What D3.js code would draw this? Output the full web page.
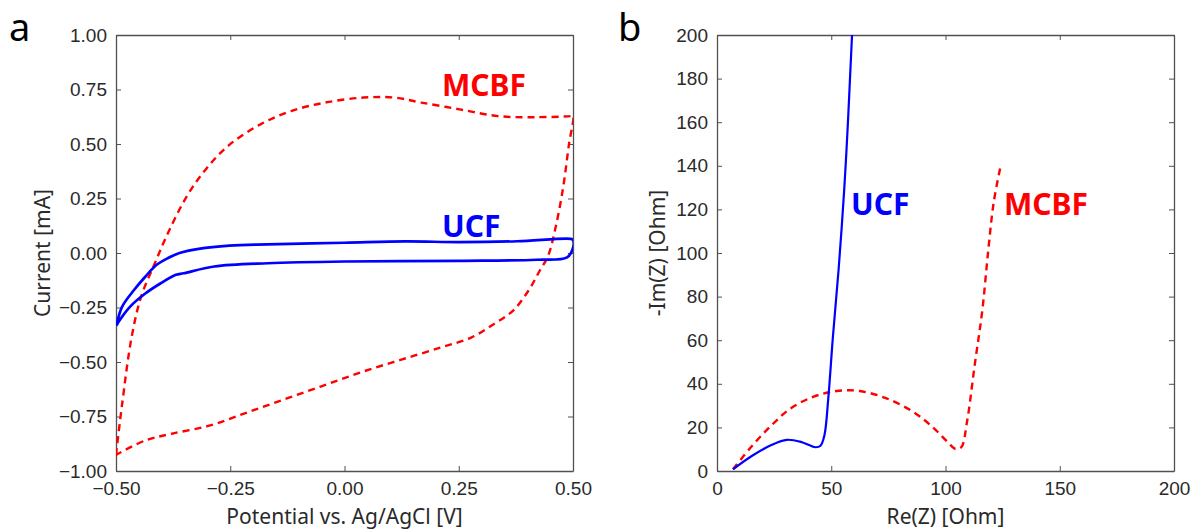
<!DOCTYPE html>
<html lang="en">
<head>
<meta charset="UTF-8">
<title>CV and EIS</title>
<script src="https://d3js.org/d3.v7.min.js"></script>
<style>
  body { margin: 0; background: #fff; }
  svg { display: block; font-family: 'Noto Sans', 'Open Sans', sans-serif; }
  .tick text { fill: #2a2a2a; font-size: 19px; }
  .axis-label { fill: #2a2a2a; font-size: 21px; }
  .panel-letter { fill: #000; font-size: 38px; }
</style>
</head>
<body>
<svg id="chart" width="1200" height="529"></svg>
<script>
// ---- data ----
// panel a: cyclic voltammetry, [potential V, current mA]
const cvMCBF = [
  [-0.500, -0.926], [-0.487, -0.70], [-0.466, -0.388], [-0.445, -0.20], [-0.415, -0.047],
  [-0.386, 0.093], [-0.344, 0.264], [-0.302, 0.388], [-0.252, 0.496], [-0.185, 0.589],
  [-0.117, 0.651], [-0.042, 0.690], [0.042, 0.713], [0.109, 0.713], [0.168, 0.690],
  [0.252, 0.659], [0.336, 0.628], [0.419, 0.623], [0.495, 0.628], [0.500, 0.630],
  [0.491, 0.496], [0.478, 0.295], [0.461, 0.109], [0.445, -0.016], [0.428, -0.078],
  [0.403, -0.171], [0.369, -0.264], [0.327, -0.326], [0.277, -0.388], [0.210, -0.434],
  [0.126, -0.488], [0.042, -0.543], [-0.042, -0.605], [-0.126, -0.667], [-0.210, -0.729],
  [-0.294, -0.791], [-0.378, -0.829], [-0.436, -0.860], [-0.500, -0.926]
];
const cvUCF = [
  [-0.499, -0.333], [-0.487, -0.248], [-0.461, -0.171], [-0.436, -0.109], [-0.411, -0.054],
  [-0.386, -0.023], [-0.361, 0.000], [-0.319, 0.019], [-0.252, 0.034], [-0.168, 0.040],
  [0.000, 0.047], [0.134, 0.053], [0.252, 0.050], [0.378, 0.054], [0.495, 0.065],
  [0.500, 0.060], [0.500, 0.023], [0.487, -0.020], [0.420, -0.031], [0.252, -0.036],
  [0.000, -0.039], [-0.168, -0.047], [-0.285, -0.062], [-0.352, -0.093], [-0.369, -0.100],
  [-0.403, -0.140], [-0.436, -0.186], [-0.470, -0.248], [-0.495, -0.318], [-0.499, -0.333]
];
// panel b: Nyquist plot, [Re(Z), -Im(Z)] in Ohm
const eisUCF = [
  [7.0, 0.8], [15.4, 7.0], [23.8, 11.9], [30.5, 14.3], [37.2, 13.2], [43.1, 10.9],
  [45.3, 11.6], [47.0, 16.3], [48.7, 33.3], [50.7, 61.2], [53.2, 92.2], [55.7, 129.5],
  [57.4, 162], [59.1, 200], [59.5, 206]
];
const eisMCBF = [
  [7.0, 0.8], [15.4, 11.6], [23.8, 20.9], [32.2, 28.7], [42.3, 34.1], [52.3, 36.7],
  [62.4, 36.7], [74.2, 33.3], [85.9, 27.1], [94.3, 20.2], [101.0, 13.2], [104.4, 10.1],
  [106.9, 10.9], [109.4, 22.5], [112.8, 48.8], [116.1, 73.6], [118.6, 100],
  [121.1, 123.3], [124.2, 140.3]
];

const cvXTicks = [-0.5, -0.25, 0, 0.25, 0.5];
const cvYTicks = [-1, -0.75, -0.5, -0.25, 0, 0.25, 0.5, 0.75, 1];
const eisXTicks = [0, 50, 100, 150, 200];
const eisYTicks = [0, 20, 40, 60, 80, 100, 120, 140, 160, 180, 200];

const RED = "#ff0000";
const BLUE = "#0000ff";

const svg = d3.select("#chart");

function drawPanel(opts) {
  const { left, right, top, bottom } = opts.box;
  const x = d3.scaleLinear().domain(opts.xDomain).range([left, right]);
  const y = d3.scaleLinear().domain(opts.yDomain).range([bottom, top]);
  const g = svg.append("g");

  const clipId = "clip-" + opts.name;
  g.append("clipPath").attr("id", clipId)
    .append("rect").attr("x", left).attr("y", top)
    .attr("width", right - left).attr("height", bottom - top);

  // axes with inward ticks on all four sides
  const axes = [
    d3.axisBottom(x).tickValues(opts.xTicks).tickFormat(opts.xFmt).tickSizeInner(-5).tickSizeOuter(0).tickPadding(11),
    d3.axisLeft(y).tickValues(opts.yTicks).tickFormat(opts.yFmt).tickSizeInner(-5).tickSizeOuter(0).tickPadding(9),
    d3.axisTop(x).tickValues(opts.xTicks).tickFormat("").tickSizeInner(-5).tickSizeOuter(0),
    d3.axisRight(y).tickValues(opts.yTicks).tickFormat("").tickSizeInner(-5).tickSizeOuter(0)
  ];
  const pos = [`translate(0,${bottom})`, `translate(${left},0)`, `translate(0,${top})`, `translate(${right},0)`];
  axes.forEach((ax, i) => {
    const a = g.append("g").attr("transform", pos[i]).call(ax);
    a.select(".domain").attr("stroke", "#505050").attr("stroke-width", 1.3);
    a.selectAll(".tick line").attr("stroke", "#505050").attr("stroke-width", 1);
    a.selectAll(".tick text").attr("font-family", null).attr("font-size", null);
  });

  const line = d3.line().x(d => x(d[0])).y(d => y(d[1])).curve(d3.curveCatmullRom.alpha(0.5));
  const plot = g.append("g").attr("clip-path", `url(#${clipId})`);
  opts.series.forEach(s => {
    plot.append("path").datum(s.data)
      .attr("d", line)
      .attr("fill", "none")
      .attr("stroke", s.color)
      .attr("stroke-width", s.width)
      .attr("stroke-dasharray", s.dash || null)
      .attr("stroke-linejoin", "round");
  });

  opts.labels.forEach(l => {
    g.append("text").attr("x", l.x).attr("y", l.y)
      .attr("fill", l.color).attr("font-size", 30).attr("font-weight", "bold")
      .text(l.text);
  });

  g.append("text").attr("class", "axis-label")
    .attr("x", (left + right) / 2).attr("y", bottom + 53)
    .attr("text-anchor", "middle").text(opts.xLabel);
  g.append("text").attr("class", "axis-label")
    .attr("transform", `translate(${left - opts.yLabelOffset},${(top + bottom) / 2}) rotate(-90)`)
    .attr("text-anchor", "middle").text(opts.yLabel);
  g.append("text").attr("class", "panel-letter")
    .attr("x", opts.letterX).attr("y", 41).text(opts.letter);
}

drawPanel({
  name: "a",
  box: { left: 116, right: 573, top: 35, bottom: 471 },
  xDomain: [-0.5, 0.5], yDomain: [-1, 1],
  xTicks: cvXTicks, yTicks: cvYTicks,
  xFmt: d3.format(".2f"), yFmt: d3.format(".2f"),
  xLabel: "Potential vs. Ag/AgCl [V]", yLabel: "Current [mA]", yLabelOffset: 66,
  series: [
    { data: cvMCBF, color: RED, width: 2.4, dash: "7,5" },
    { data: cvUCF, color: BLUE, width: 2.7 }
  ],
  labels: [
    { text: "MCBF", x: 442, y: 96, color: RED },
    { text: "UCF", x: 442, y: 237, color: BLUE }
  ],
  letter: "a", letterX: 9
});

drawPanel({
  name: "b",
  box: { left: 717, right: 1174, top: 35, bottom: 471 },
  xDomain: [0, 200], yDomain: [0, 200],
  xTicks: eisXTicks, yTicks: eisYTicks,
  xFmt: d3.format("d"), yFmt: d3.format("d"),
  xLabel: "Re(Z) [Ohm]", yLabel: "-Im(Z) [Ohm]", yLabelOffset: 52,
  series: [
    { data: eisMCBF, color: RED, width: 2.4, dash: "7,5" },
    { data: eisUCF, color: BLUE, width: 2.2 }
  ],
  labels: [
    { text: "UCF", x: 851, y: 215, color: BLUE },
    { text: "MCBF", x: 1004, y: 215, color: RED }
  ],
  letter: "b", letterX: 618
});
</script>
</body>
</html>
